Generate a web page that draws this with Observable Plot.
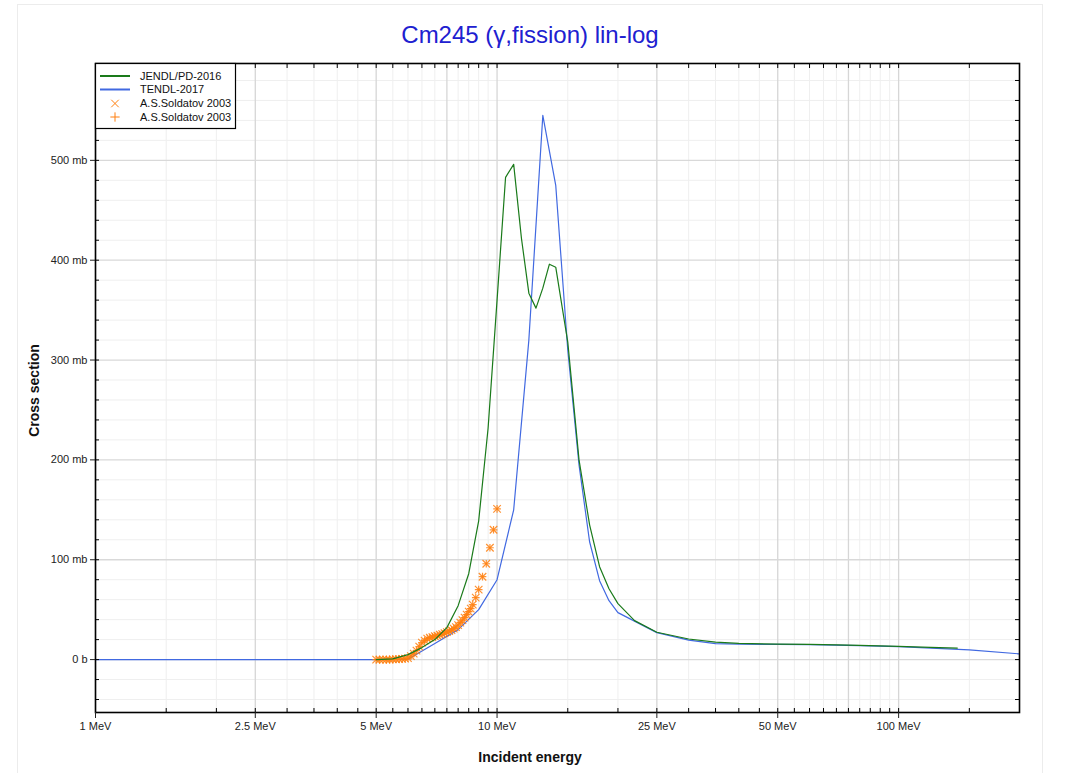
<!DOCTYPE html>
<html><head><meta charset="utf-8">
<script src="https://cdn.jsdelivr.net/npm/d3@7"></script>
<script src="https://cdn.jsdelivr.net/npm/@observablehq/plot@0.6"></script>
<style>
body{margin:0;background:#fff;font-family:"Liberation Sans",Arial,sans-serif;}
#wrap{position:relative;width:1067px;height:773px;overflow:hidden;}
#border{position:absolute;left:17px;top:4px;width:1024px;height:820px;border:1px solid #ececec;pointer-events:none;z-index:2;}
</style></head><body><div id="wrap"><div id="border"></div></div>
<script>
// ---- data ----
const title = "Cm245 (γ,fission) lin-log";
const xLabel = "Incident energy";
const yLabel = "Cross section";
const seriesNames = ["JENDL/PD-2016", "TENDL-2017", "A.S.Soldatov 2003", "A.S.Soldatov 2003"];

// JENDL/PD-2016 (MeV, mb)
const jendlE = [5, 5.5, 6, 6.5, 7, 7.5, 8, 8.5, 9, 9.5, 10, 10.5, 11, 11.5, 12, 12.5, 13, 13.5, 14, 15, 16, 17, 18, 19, 20, 22, 25, 30, 35, 40, 50, 60, 70, 80, 100, 120, 140];
const jendlS = [0, 0.7, 5, 12, 20, 32, 54, 86, 139, 232, 360, 483, 496, 422, 367, 352, 372, 396, 393, 318, 200, 135, 93, 71, 56, 39, 27.4, 20.6, 17.4, 16.3, 15.5, 15.2, 14.8, 14.3, 13.3, 12.3, 11.5];

// TENDL-2017 (MeV, mb)
const tendlE = [1, 5, 6, 7, 8, 9, 10, 11, 12, 13, 14, 15, 16, 17, 18, 19, 20, 25, 30, 35, 40, 50, 60, 80, 100, 150, 200];
const tendlS = [0, 0, 0.3, 16, 30, 50, 80, 150, 320, 545, 475, 310, 195, 118, 79, 59, 47, 27, 19.5, 16, 15.5, 15.2, 15, 14, 13, 9.7, 5.7];

// A.S.Soldatov 2003 (MeV, mb)
const expE = [5.0, 5.1, 5.2, 5.3, 5.4, 5.5, 5.6, 5.7, 5.8, 5.9, 6.0, 6.1, 6.2, 6.3, 6.4, 6.5, 6.6, 6.7, 6.8, 6.9, 7.0, 7.1, 7.2, 7.3, 7.4, 7.5, 7.6, 7.7, 7.8, 7.9, 8.0, 8.1, 8.2, 8.3, 8.4, 8.5, 8.6, 8.7, 8.85, 9.0, 9.2, 9.4, 9.6, 9.8, 10.0];
const expS = [0, 0, 0, 0, 0, 0.2, 0.3, 0.5, 0.7, 1.0, 1.5, 3.5, 6, 9, 13, 17, 19, 21, 22, 22.5, 23.5, 24, 25, 25.5, 26.5, 27.5, 28.5, 29.5, 31, 32.5, 34.5, 37, 39.5, 42, 45, 48, 51, 55, 62, 70, 83, 96, 112, 130, 151];

// ticks
const xMajor = [1, 2.5, 5, 7.5, 10, 25, 50, 75, 100];
const xLabeled = [1, 2.5, 5, 10, 25, 50, 100];
const xMinor = [1.5, 2, 3, 3.5, 4, 4.5, 5.5, 6, 6.5, 7, 8, 8.5, 9, 9.5, 15, 20, 30, 35, 40, 45, 55, 60, 65, 70, 80, 85, 90, 95, 150];
const yMajor = [0, 100, 200, 300, 400, 500];
const yMinor = [-40, -20, 20, 40, 60, 80, 120, 140, 160, 180, 220, 240, 260, 280, 320, 340, 360, 380, 420, 440, 460, 480, 520, 540, 560, 580];

// ---- build ----
const jendl = jendlE.map((e, i) => ({e, s: jendlS[i]}));
const tendl = tendlE.map((e, i) => ({e, s: tendlS[i]}));
const exp = expE.map((e, i) => ({e, s: expS[i]}));

const green = "#1a7a1a", blue = "#4169e1", orange = "#ff7f0e";
const W = 1067, H = 773, mL = 95, mR = 48, mT = 63, mB = 61;
const fw = W - mL - mR, fh = H - mT - mB;
const xAll = xMajor.concat(xMinor);
const yAll = yMajor.concat(yMinor);

const chart = Plot.plot({
  width: W, height: H,
  marginLeft: mL, marginRight: mR, marginTop: mT, marginBottom: mB,
  style: {fontFamily: "Liberation Sans, Arial, sans-serif", fontSize: "11px", color: "#222", background: "white"},
  x: {type: "log", domain: [1, 200], label: null},
  y: {domain: [-53, 597], label: null},
  marks: [
    Plot.ruleX(xMinor, {stroke: "#efefef", strokeWidth: 1}),
    Plot.ruleY(yMinor, {stroke: "#efefef", strokeWidth: 1}),
    Plot.ruleX(xMajor, {stroke: "#d6d6d6", strokeWidth: 1.3}),
    Plot.ruleY(yMajor, {stroke: "#d9d9d9", strokeWidth: 1.3}),
    Plot.line(tendl, {x: "e", y: "s", stroke: blue, strokeWidth: 1.2, clip: true}),
    Plot.dot(exp, {x: "e", y: "s", symbol: "times", r: 3.5, stroke: orange, strokeWidth: 1.2, strokeOpacity: 0.85}),
    Plot.dot(exp, {x: "e", y: "s", symbol: "plus", r: 2.6, stroke: orange, strokeWidth: 1.2, strokeOpacity: 0.85}),
    Plot.line(jendl, {x: "e", y: "s", stroke: green, strokeWidth: 1.2, clip: true}),
    // inward ticks
    Plot.ruleX(xAll, {insetTop: fh - 4, stroke: "#000"}),
    Plot.ruleX(xAll, {insetBottom: fh - 5, stroke: "#000"}),
    Plot.ruleY(yAll, {insetRight: fw - 4, stroke: "#000"}),
    Plot.ruleY(yAll, {insetLeft: fw - 4, stroke: "#000"}),
    Plot.frame({stroke: "#000", strokeWidth: 1.6}),
    Plot.axisX({ticks: xLabeled, anchor: "bottom", tickSize: 6, tickPadding: 4, tickFormat: d => d + " MeV", label: null, fontSize: 11}),
    Plot.axisY({ticks: yMajor, anchor: "left", tickSize: 5, tickPadding: 3, tickFormat: d => d === 0 ? "0 b" : d + " mb", label: null, fontSize: 11}),
    Plot.text([title], {text: d => d, frameAnchor: "top", dy: -28, dx: -27.5, textAnchor: "middle", lineAnchor: "middle", fontSize: 24, fill: "#2020d0"}),
    Plot.text([xLabel], {text: d => d, frameAnchor: "bottom", dy: 45, dx: -27.5, textAnchor: "middle", lineAnchor: "middle", fontSize: 14, fontWeight: "bold", fill: "#111"}),
    Plot.text([yLabel], {text: d => d, frameAnchor: "left", dx: -61, dy: 2.5, rotate: -90, textAnchor: "middle", lineAnchor: "middle", fontSize: 14, fontWeight: "bold", fill: "#111"})
  ]
});

// ---- legend ----
const svg = d3.select(chart);
const lg = svg.append("g").attr("font-family", "Liberation Sans, Arial, sans-serif").attr("font-size", 11).attr("text-anchor", "start");
lg.append("rect").attr("x", 95.5).attr("y", 63.5).attr("width", 140).attr("height", 65)
  .attr("fill", "white").attr("stroke", "#000").attr("stroke-width", 1.2);
const rows = [76, 89.5, 103.5, 117];
const kinds = ["line", "line", "times", "plus"];
const colors = [green, blue, orange, orange];
rows.forEach((ry, i) => {
  if (kinds[i] === "line") {
    lg.append("line").attr("x1", 100).attr("x2", 130).attr("y1", ry).attr("y2", ry)
      .attr("stroke", colors[i]).attr("stroke-width", 2);
  } else {
    const sym = kinds[i] === "times" ? d3.symbolTimes : d3.symbolPlus;
    const size = kinds[i] === "times" ? Math.PI * 3.5 * 3.5 : Math.PI * 3.1 * 3.1;
    lg.append("path").attr("d", d3.symbol(sym, size)()).attr("transform", `translate(115,${ry})`)
      .attr("fill", "none").attr("stroke", colors[i]).attr("stroke-width", 1);
  }
  lg.append("text").attr("x", 140).attr("y", ry).attr("dy", "0.35em").attr("text-anchor", "start").attr("fill", "#111").text(seriesNames[i]);
});

document.getElementById("wrap").appendChild(chart);
chart.style.position = "absolute";
chart.style.left = "0px";
chart.style.top = "0px";
</script></body></html>
